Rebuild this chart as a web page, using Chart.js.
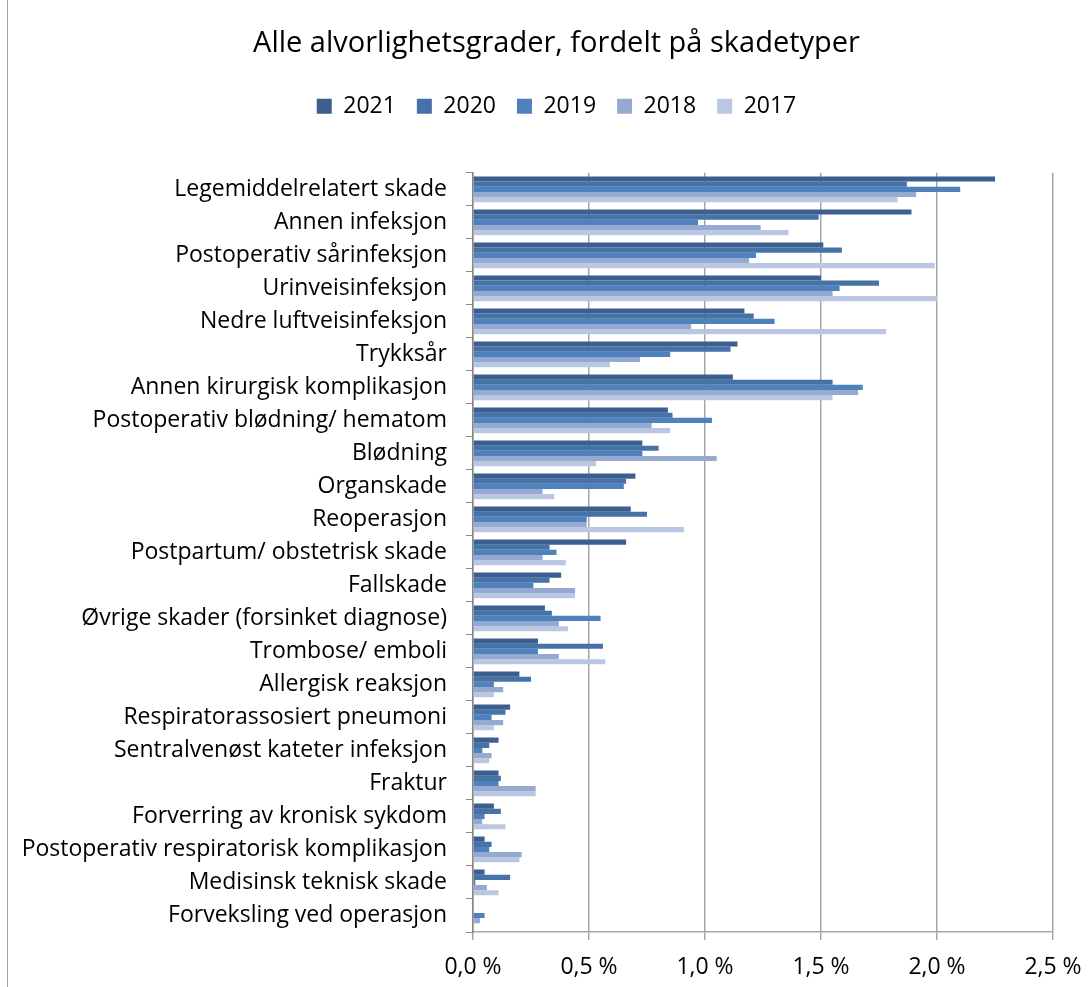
<!DOCTYPE html>
<html lang="no">
<head>
<meta charset="UTF-8">
<title>Alle alvorlighetsgrader, fordelt på skadetyper</title>
<script src="https://cdn.jsdelivr.net/npm/chart.js"></script>
<style>
  html, body { margin: 0; padding: 0; background: #fff; }
  #wrap { position: relative; width: 1092px; height: 987px; }
  #frame { position: absolute; left: 7px; top: 0; height: 987px; border-left: 1px solid #a6a6a6; }
</style>
</head>
<body>
<div id="wrap">
  <div id="frame"></div>
  <canvas id="chart" width="1092" height="987"></canvas>
</div>
<script>
// skadetyper, verdier i prosent
const categories = [
  "Legemiddelrelatert skade",
  "Annen infeksjon",
  "Postoperativ sårinfeksjon",
  "Urinveisinfeksjon",
  "Nedre luftveisinfeksjon",
  "Trykksår",
  "Annen kirurgisk komplikasjon",
  "Postoperativ blødning/ hematom",
  "Blødning",
  "Organskade",
  "Reoperasjon",
  "Postpartum/ obstetrisk skade",
  "Fallskade",
  "Øvrige skader (forsinket diagnose)",
  "Trombose/ emboli",
  "Allergisk reaksjon",
  "Respiratorassosiert pneumoni",
  "Sentralvenøst kateter infeksjon",
  "Fraktur",
  "Forverring av kronisk sykdom",
  "Postoperativ respiratorisk komplikasjon",
  "Medisinsk teknisk skade",
  "Forveksling ved operasjon"
];

const v2021 = [2.25, 1.89, 1.51, 1.50, 1.17, 1.14, 1.12, 0.84, 0.73, 0.70, 0.68, 0.66, 0.38, 0.31, 0.28, 0.20, 0.16, 0.11, 0.11, 0.09, 0.05, 0.05, 0];
const v2020 = [1.87, 1.49, 1.59, 1.75, 1.21, 1.11, 1.55, 0.86, 0.80, 0.66, 0.75, 0.33, 0.33, 0.34, 0.56, 0.25, 0.14, 0.07, 0.12, 0.12, 0.08, 0.16, 0];
const v2019 = [2.10, 0.97, 1.22, 1.58, 1.30, 0.85, 1.68, 1.03, 0.73, 0.65, 0.49, 0.36, 0.26, 0.55, 0.28, 0.09, 0.08, 0.04, 0.11, 0.05, 0.07, 0.01, 0.05];
const v2018 = [1.91, 1.24, 1.19, 1.55, 0.94, 0.72, 1.66, 0.77, 1.05, 0.30, 0.49, 0.30, 0.44, 0.37, 0.37, 0.13, 0.13, 0.08, 0.27, 0.04, 0.21, 0.06, 0.03];
const v2017 = [1.83, 1.36, 1.99, 2.00, 1.78, 0.59, 1.55, 0.85, 0.53, 0.35, 0.91, 0.40, 0.44, 0.41, 0.57, 0.09, 0.09, 0.07, 0.27, 0.14, 0.20, 0.11, 0];

const years = ["2021", "2020", "2019", "2018", "2017"];
const colors = ["#3b5f8f", "#4572a7", "#4f81bd", "#95a9d1", "#b9c7e2"];
const xTicks = [0, 0.5, 1, 1.5, 2, 2.5];

const font = "'Open Sans', sans-serif";

const seriesValues = [v2021, v2020, v2019, v2018, v2017];

// ekstra luft mellom forklaring og plottet, og tittel/forklaring litt mot høyre
const headerLayout = {
  id: "headerLayout",
  beforeInit(chart) {
    const fit = chart.legend.fit;
    chart.legend.fit = function () {
      fit.bind(chart.legend)();
      this.height += 45;
    };
  },
  afterLayout(chart) {
    chart.titleBlock.left = 60;
    chart.legend.left = 60;
  }
};

new Chart(document.getElementById("chart"), {
  type: "bar",
  data: {
    labels: categories,
    datasets: years.map((y, i) => ({
      label: y,
      data: seriesValues[i],
      backgroundColor: colors[i],
      borderWidth: 0,
      categoryPercentage: 0.78,
      barPercentage: 1
    }))
  },
  options: {
    indexAxis: "y",
    responsive: false,
    animation: false,
    layout: { padding: { top: 0, right: 39, bottom: 0, left: 0 } },
    plugins: {
      title: {
        display: true,
        text: "Alle alvorlighetsgrader, fordelt på skadetyper",
        color: "#000",
        font: { family: font, size: 29, weight: "normal" },
        padding: { top: 26, bottom: 13 }
      },
      legend: {
        position: "top",
        labels: {
          color: "#000",
          font: { family: font, size: 23 },
          boxWidth: 15,
          boxHeight: 15,
          padding: 21
        }
      },
      tooltip: { enabled: false }
    },
    scales: {
      x: {
        min: 0,
        max: 2.5,
        afterBuildTicks: s => { s.ticks = xTicks.map(v => ({ value: v })); },
        afterFit: s => { s.height = 55; s.paddingLeft = 0; s.paddingRight = 0; },
        ticks: {
          color: "#000",
          font: { family: font, size: 23 },
          padding: 14,
          callback: v => v.toFixed(1).replace(".", ",") + " %"
        },
        grid: { color: "#a6a6a6", lineWidth: 1.5, tickLength: 8 },
        border: { color: "#a6a6a6", width: 1.5 }
      },
      y: {
        afterFit: s => { s.width = 473; },
        ticks: {
          color: "#000",
          font: { family: font, size: 23 },
          padding: 19,
          autoSkip: false
        },
        grid: { drawOnChartArea: false, color: "#868686", tickLength: 7 },
        border: { color: "#868686", width: 1.5 }
      }
    }
  },
  plugins: [headerLayout]
});
</script>
</body>
</html>
